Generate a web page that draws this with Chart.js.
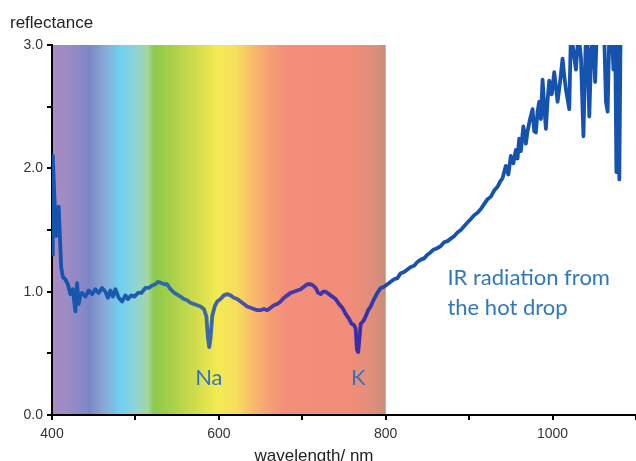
<!DOCTYPE html>
<html>
<head>
<meta charset="utf-8">
<script src="https://cdn.jsdelivr.net/npm/chart.js@4/dist/chart.umd.min.js"></script>
<style>
  html, body { margin: 0; padding: 0; background: #fff; overflow: hidden; }
  #wrap { width: 636px; height: 461px; overflow: hidden; }
</style>
</head>
<body>
<div id="wrap"><canvas id="chart" width="642" height="461"></canvas></div>
<script>
// wavelength (nm) and reflectance
const wavelengths = [
  400, 401, 403, 405, 408, 411, 413, 416, 419, 422, 425, 428, 430, 432, 434, 436,
  440, 444, 448, 452, 456, 460, 464, 467, 470, 473, 476, 480, 484, 488, 491, 495,
  499, 503, 507, 512, 516, 520, 524, 527, 531, 535, 538, 542, 545, 549, 554, 558,
  562, 566, 570, 574, 578, 582, 585, 587, 588.5, 590, 592, 595, 598, 602, 606, 610,
  614, 618, 622, 626, 630, 634, 638, 642, 646, 650, 654, 658, 662, 666, 670, 674,
  678, 682, 686, 690, 694, 698, 702, 706, 710, 713, 716, 719, 722, 725, 728, 732,
  736, 740, 744, 748, 752, 756, 759, 762, 764, 765.5, 767, 768.5, 770, 773, 776, 779,
  782, 786, 790, 794, 798, 802, 806, 810, 814, 818, 822, 826, 830, 834, 838, 842,
  846, 850, 854, 857, 861, 866, 870, 874, 878, 882, 886, 890, 894, 898, 902, 906,
  910, 914, 918, 922, 926, 930, 934, 937, 940, 944, 947, 950, 953, 956, 958, 960,
  962, 965, 968, 970, 973, 976, 978, 980, 982, 984, 986, 988, 990, 992, 994, 996,
  999, 1002, 1004, 1006, 1009, 1012, 1014, 1016, 1018, 1020, 1022, 1025, 1028, 1031, 1034, 1037,
  1040, 1042, 1044, 1047, 1049, 1051, 1053, 1056, 1059, 1062, 1064, 1066, 1068, 1071, 1073, 1075,
  1076.5, 1078, 1080, 1081.5
];
const reflectance = [
  1.30, 2.10, 1.75, 1.45, 1.69, 1.20, 1.12, 1.10, 1.06, 0.98, 1.02, 0.84, 1.07, 0.90, 0.97, 0.99,
  0.96, 1.01, 0.98, 1.02, 0.99, 1.03, 1.00, 0.95, 1.01, 0.96, 1.02, 0.95, 0.92, 0.97, 0.94, 0.97,
  0.96, 0.99, 0.99, 1.03, 1.03, 1.05, 1.06, 1.08, 1.07, 1.06, 1.06, 1.02, 1.00, 0.98, 0.96, 0.94,
  0.93, 0.91, 0.90, 0.89, 0.88, 0.86, 0.80, 0.62, 0.55, 0.62, 0.80, 0.88, 0.92, 0.94, 0.97, 0.98,
  0.97, 0.95, 0.94, 0.92, 0.90, 0.88, 0.87, 0.86, 0.85, 0.85, 0.86, 0.85, 0.87, 0.89, 0.90, 0.92,
  0.95, 0.97, 0.99, 1.00, 1.01, 1.02, 1.04, 1.06, 1.06, 1.05, 1.03, 0.99, 0.98, 1.00, 1.00, 0.98,
  0.96, 0.94, 0.90, 0.87, 0.82, 0.78, 0.74, 0.73, 0.70, 0.53, 0.51, 0.62, 0.74, 0.76, 0.80, 0.85,
  0.88, 0.94, 0.99, 1.03, 1.04, 1.06, 1.08, 1.10, 1.11, 1.15, 1.16, 1.18, 1.20, 1.21, 1.24, 1.26,
  1.27, 1.30, 1.32, 1.34, 1.35, 1.37, 1.40, 1.41, 1.43, 1.45, 1.48, 1.50, 1.53, 1.56, 1.59, 1.62,
  1.64, 1.67, 1.71, 1.75, 1.77, 1.82, 1.85, 1.89, 1.92, 2.02, 1.95, 2.10, 2.04, 2.15, 2.08, 2.24,
  2.14, 2.34, 2.20, 2.30, 2.40, 2.48, 2.30, 2.29, 2.46, 2.54, 2.40, 2.72, 2.50, 2.32, 2.55, 2.71,
  2.60, 2.78, 2.66, 2.54, 2.70, 2.89, 2.75, 2.64, 2.56, 2.48, 3.10, 2.95, 2.80, 3.10, 2.90, 2.26,
  3.10, 2.95, 2.42, 3.10, 3.05, 2.70, 3.10, 3.10, 3.10, 3.05, 2.54, 2.46, 3.10, 3.10, 2.80, 3.10,
  1.97, 3.10, 1.91, 3.10
];
const xLabels = [400, 600, 800, 1000];
const yLabels = [0, 1, 2, 3];

// spectrum band behind the visible range
const spectrumStops = [
  [400, '#a98bc1'], [420, '#9b8bc6'], [445, '#7b87c7'], [462, '#8aa6d6'],
  [482, '#6fd0f1'], [500, '#8fd3d6'], [515, '#a4d6a0'], [522, '#8dc84c'],
  [545, '#a9d14a'], [570, '#cddb4c'], [598, '#f4ea52'], [620, '#f7df5c'],
  [640, '#f8bc6a'], [660, '#f6a072'], [680, '#f28e7a'], [760, '#f08c78'],
  [785, '#df8e7c'], [800, '#c98c7a']
];
const lineStops = [
  [400, '#1553ad'], [500, '#1b5cae'], [535, '#2c6ca8'], [585, '#3d69a2'],
  [615, '#4a5fa8'], [650, '#4a3ca9'], [720, '#4034a8'], [770, '#3a2cab'],
  [800, '#2149af'], [830, '#1752ae'], [1100, '#1553ad']
];

const spectrumBg = {
  id: 'spectrumBg',
  beforeDraw(chart) {
    const { ctx, chartArea, scales } = chart;
    const x0 = scales.x.getPixelForValue(400);
    const x1 = scales.x.getPixelForValue(800);
    const g = ctx.createLinearGradient(x0, 0, x1, 0);
    spectrumStops.forEach(([w, c]) => g.addColorStop((w - 400) / 400, c));
    ctx.save();
    ctx.fillStyle = g;
    ctx.fillRect(x0, chartArea.top, x1 - x0, chartArea.bottom - chartArea.top);
    ctx.restore();
  }
};

const labels = {
  id: 'labels',
  afterDraw(chart) {
    const { ctx, scales } = chart;
    const x = scales.x, y = scales.y;
    ctx.save();
    ctx.fillStyle = '#222';
    ctx.font = '17px "Liberation Sans", Arial, sans-serif';
    ctx.textBaseline = 'alphabetic';
    ctx.textAlign = 'left';
    ctx.fillText('reflectance', 10, 28);
    ctx.textAlign = 'center';
    ctx.fillText('wavelength/ nm', 314, 461);

    ctx.fillStyle = '#3077bb';
    ctx.font = '22px Lato, "Open Sans", sans-serif';
    ctx.textBaseline = 'middle';
    ctx.fillText('Na', x.getPixelForValue(588), y.getPixelForValue(0.30));
    ctx.fillText('K', x.getPixelForValue(767), y.getPixelForValue(0.30));
    ctx.textAlign = 'left';
    ctx.fillText('IR radiation from', x.getPixelForValue(874), y.getPixelForValue(1.11));
    ctx.fillText('the hot drop', x.getPixelForValue(874), y.getPixelForValue(0.87));
    ctx.restore();
  }
};

function lineColor(context) {
  const { chart } = context;
  const { ctx, chartArea, scales } = chart;
  if (!chartArea) return '#1553ad';
  const x0 = scales.x.getPixelForValue(400);
  const x1 = scales.x.getPixelForValue(1100);
  const g = ctx.createLinearGradient(x0, 0, x1, 0);
  lineStops.forEach(([w, c]) => g.addColorStop((w - 400) / 700, c));
  return g;
}

new Chart(document.getElementById('chart'), {
  type: 'line',
  data: {
    datasets: [{
      data: wavelengths.map((w, i) => ({ x: w, y: reflectance[i] })),
      borderColor: lineColor,
      borderWidth: 3.8,
      borderJoinStyle: 'round',
      pointRadius: 0,
      tension: 0,
      clip: 0
    }]
  },
  options: {
    responsive: false,
    animation: false,
    layout: { padding: { top: 45, right: 0, left: 0, bottom: 0 } },
    plugins: { legend: { display: false }, tooltip: { enabled: false } },
    scales: {
      x: {
        type: 'linear',
        min: 400,
        max: 1100,
        afterFit(scale) { scale.height = 46; },
        border: { color: '#000', width: 2 },
        grid: { drawOnChartArea: false, drawTicks: true, tickLength: 5, color: '#000', lineWidth: 2 },
        ticks: {
          stepSize: 100,
          padding: 6,
          color: '#333',
          font: { family: '"Liberation Sans", Arial, sans-serif', size: 14 },
          maxRotation: 0,
          autoSkip: false,
          callback: (v) => xLabels.includes(v) ? String(v) : ''
        }
      },
      y: {
        min: 0,
        max: 3,
        afterFit(scale) { scale.width = 52; },
        border: { color: '#000', width: 2 },
        grid: { drawOnChartArea: false, drawTicks: true, tickLength: 5, color: '#000', lineWidth: 2 },
        ticks: {
          stepSize: 0.5,
          padding: 4,
          color: '#333',
          font: { family: '"Liberation Sans", Arial, sans-serif', size: 14 },
          autoSkip: false,
          callback: (v) => yLabels.includes(v) ? v.toFixed(1) : ''
        }
      }
    }
  },
  plugins: [spectrumBg, labels]
});
</script>
</body>
</html>
